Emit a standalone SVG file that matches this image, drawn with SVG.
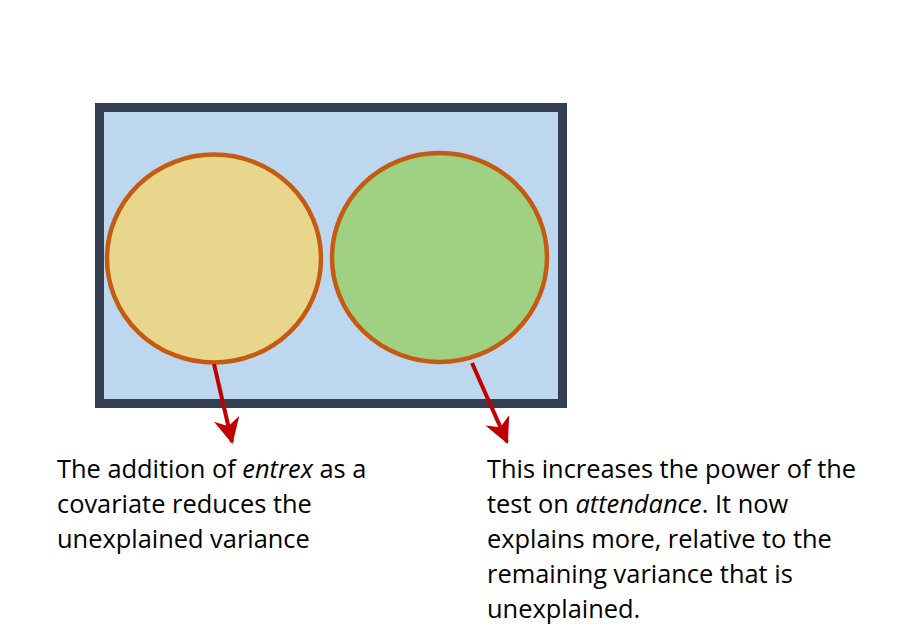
<svg xmlns="http://www.w3.org/2000/svg" width="898" height="644" viewBox="0 0 898 644">
<defs>
<style>
.lbl{font-family:"Open Sans","Liberation Sans",sans-serif;font-size:25.4px;fill:#000}
.circ{stroke:#C55A11;stroke-width:4.5}
.arr{stroke:#C00000;stroke-width:4;fill:none;marker-end:url(#ah)}
</style>
<marker id="ah" viewBox="0 0 12 12" refX="11" refY="6" markerWidth="6.5" markerHeight="6.5" orient="auto" markerUnits="strokeWidth">
<path d="M0,0 L12,6 L0,12 L3.5,6 Z" fill="#C00000"/>
</marker>
</defs>
<rect width="898" height="644" fill="#fff"/>
<g id="box">
<rect x="99.5" y="107.5" width="463" height="296" fill="#BDD7EE" stroke="#333F50" stroke-width="9"/>
</g>
<g id="circle-entrex">
<ellipse class="circ" cx="214" cy="258.5" rx="107" ry="104" fill="#E9D68D"/>
</g>
<g id="circle-attendance">
<ellipse class="circ" cx="439.5" cy="257.5" rx="107.5" ry="104.5" fill="#A0D183"/>
</g>
<g id="connectors">
<line class="arr" x1="214" y1="364" x2="232" y2="442"/>
<line class="arr" x1="472" y1="363" x2="507" y2="442"/>
</g>
<g id="label-left">
<text class="lbl" x="57" y="478">The addition of <tspan font-style="italic">entrex</tspan> as a</text>
<text class="lbl" x="57" y="513">covariate reduces the</text>
<text class="lbl" x="57" y="548">unexplained variance</text>
</g>
<g id="label-right">
<text class="lbl" x="487" y="478">This increases the power of the</text>
<text class="lbl" x="487" y="513">test on <tspan font-style="italic">attendance</tspan>. It now</text>
<text class="lbl" x="487" y="548">explains more, relative to the</text>
<text class="lbl" x="487" y="583">remaining variance that is</text>
<text class="lbl" x="487" y="618">unexplained.</text>
</g>
</svg>
